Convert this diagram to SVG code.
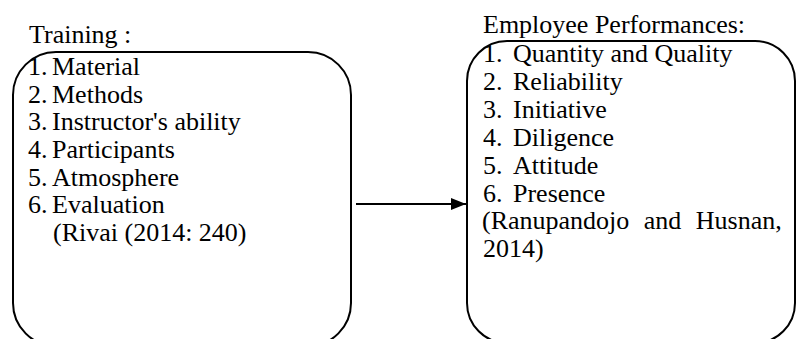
<svg xmlns="http://www.w3.org/2000/svg" width="796" height="339" viewBox="0 0 796 339">
<style>
.box{fill:none;stroke:#000;stroke-width:2}
.t{font-size:26px;fill:#000}
.c{stroke:#000;stroke-width:2;fill:none}
</style>
<defs>
<marker id="ah" markerWidth="15" markerHeight="12" refX="15" refY="6" orient="auto" markerUnits="userSpaceOnUse">
<path d="M0,0 L15,6 L0,12 Z" fill="#000"/>
</marker>
</defs>
<rect width="796" height="339" fill="#fff"/>
<g id="training" font-family="Liberation Serif, Tinos, Times New Roman, Noto Serif, DejaVu Serif, serif">
<rect class="box" x="13" y="52" width="338" height="294" rx="43" ry="43"/>
<text class="t" x="29" y="43">Training :</text>
<text class="t" x="28" y="75">1.</text><text class="t" x="52" y="75">Material</text>
<text class="t" x="28" y="102.5">2.</text><text class="t" x="52" y="102.5">Methods</text>
<text class="t" x="28" y="130">3.</text><text class="t" x="52" y="130">Instructor's ability</text>
<text class="t" x="28" y="158">4.</text><text class="t" x="52" y="158">Participants</text>
<text class="t" x="28" y="185.5">5.</text><text class="t" x="52" y="185.5">Atmosphere</text>
<text class="t" x="28" y="213">6.</text><text class="t" x="52" y="213">Evaluation</text>
<text class="t" x="53" y="240.5">(Rivai (2014: 240)</text>
</g>
<g id="performance" font-family="Liberation Serif, Tinos, Times New Roman, Noto Serif, DejaVu Serif, serif">
<rect class="box" x="467" y="41" width="328" height="302" rx="40" ry="40"/>
<text class="t" x="483" y="33">Employee Performances:</text>
<text class="t" x="483" y="62">1.</text><text class="t" x="513" y="62">Quantity and Quality</text>
<text class="t" x="483" y="90">2.</text><text class="t" x="513" y="90">Reliability</text>
<text class="t" x="483" y="118">3.</text><text class="t" x="513" y="118">Initiative</text>
<text class="t" x="483" y="146">4.</text><text class="t" x="513" y="146">Diligence</text>
<text class="t" x="483" y="174">5.</text><text class="t" x="513" y="174">Attitude</text>
<text class="t" x="483" y="202">6.</text><text class="t" x="513" y="202">Presence</text>
<text class="t" x="482" y="229" word-spacing="8">(Ranupandojo and Husnan,</text>
<text class="t" x="483" y="257">2014)</text>
</g>
<g id="connectors">
<line class="c" x1="356" y1="204" x2="466" y2="204" marker-end="url(#ah)"/>
</g>
</svg>
